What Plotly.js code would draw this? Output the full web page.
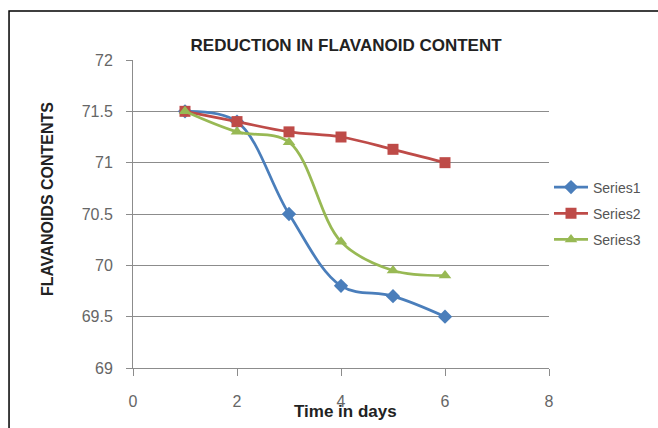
<!DOCTYPE html>
<html>
<head>
<meta charset="utf-8">
<script src="https://cdn.plot.ly/plotly-3.0.1.min.js"></script>
<style>
  html, body { margin: 0; padding: 0; background: #ffffff; }
  #chart { width: 658px; height: 428px; }
</style>
</head>
<body>
<div id="chart"></div>
<script>
// Days of measurement
const days = [1, 2, 3, 4, 5, 6];

// Flavanoid content per series
const series1 = [71.5, 71.4, 70.5, 69.8, 69.7, 69.5];
const series2 = [71.5, 71.4, 71.3, 71.25, 71.13, 71.0];
const series3 = [71.5, 71.3, 71.2, 70.23, 69.95, 69.9];

const seriesNames = ['Series1', 'Series2', 'Series3'];
const xTicks = [0, 2, 4, 6, 8];
const yTicks = [69, 69.5, 70, 70.5, 71, 71.5, 72];

const colors = ['#4A7EBB', '#BE4B48', '#98B954'];
const symbols = ['diamond', 'square', 'triangle-up'];
const sizes = [11, 11, 11];

const traces = [series1, series2, series3].map((vals, i) => ({
  x: days,
  y: vals,
  name: seriesNames[i],
  legendgroup: 'g' + i,
  type: 'scatter',
  mode: 'lines+markers',
  line: { color: colors[i], width: 2.75, shape: 'spline', smoothing: 1 },
  marker: { symbol: symbols[i], size: sizes[i], color: colors[i] }
}));

const font = 'Liberation Sans, Arial, sans-serif';
const tickGray = '#666666';
const axisGray = '#8c8c8c';

const layout = {
  width: 658,
  height: 428,
  margin: { l: 133, r: 109, t: 60, b: 60 },
  paper_bgcolor: '#ffffff',
  plot_bgcolor: '#ffffff',
  showlegend: true,
  title: {
    text: '<b>REDUCTION IN FLAVANOID CONTENT</b>',
    font: { family: font, size: 17, color: '#222222' },
    x: 0.526, xanchor: 'center',
    y: 0.895, yanchor: 'middle'
  },
  xaxis: {
    range: [0, 8],
    tickvals: xTicks,
    ticktext: xTicks.map(String),
    showgrid: false,
    zeroline: false,
    showline: true,
    linecolor: axisGray,
    linewidth: 1,
    ticks: 'outside',
    ticklen: 7,
    tickcolor: axisGray,
    ticklabelstandoff: 12,
    tickfont: { family: font, size: 16, color: tickGray }
  },
  yaxis: {
    range: [69, 72],
    tickvals: yTicks,
    ticktext: yTicks.map(String),
    showgrid: true,
    gridcolor: axisGray,
    gridwidth: 1,
    zeroline: false,
    showline: true,
    linecolor: axisGray,
    linewidth: 1,
    ticks: 'outside',
    ticklen: 6,
    tickcolor: axisGray,
    ticklabelstandoff: 10,
    tickfont: { family: font, size: 16, color: tickGray }
  },
  annotations: [
    {
      text: '<b>Time in days</b>',
      xref: 'paper', yref: 'paper',
      x: 0.510, y: -0.142, xanchor: 'center', yanchor: 'middle',
      showarrow: false,
      font: { family: font, size: 17, color: '#222222' }
    },
    {
      text: '<b>FLAVANOIDS CONTENTS</b>',
      xref: 'paper', yref: 'paper',
      x: -0.204, y: 0.549, xanchor: 'center', yanchor: 'middle',
      textangle: -90,
      showarrow: false,
      font: { family: font, size: 16, color: '#222222' }
    }
  ],
  legend: {
    x: 1.0, xanchor: 'left',
    y: 0.638, yanchor: 'top',
    traceorder: 'grouped',
    tracegroupgap: 5,
    font: { family: font, size: 14, color: '#555555' },
    bgcolor: 'rgba(0,0,0,0)',
    itemwidth: 34
  },
  shapes: [
    {
      type: 'rect', xref: 'paper', yref: 'paper',
      x0: -0.298, x1: 1.267, y0: -0.25, y1: 1.159,
      line: { color: '#000000', width: 1.5 },
      fillcolor: 'rgba(0,0,0,0)'
    }
  ]
};

Plotly.newPlot('chart', traces, layout, { displayModeBar: false, staticPlot: true });
</script>
</body>
</html>
